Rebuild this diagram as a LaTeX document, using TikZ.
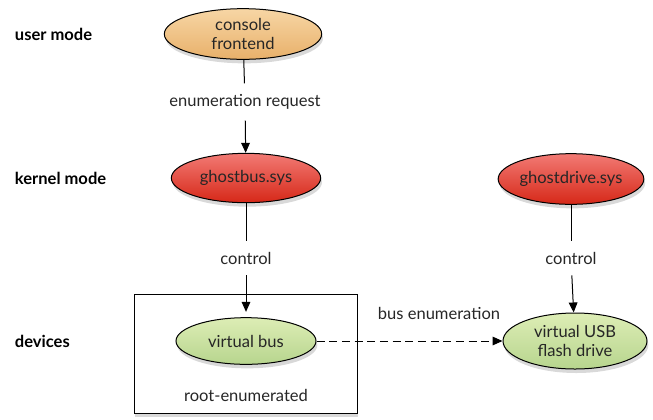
\documentclass[tikz,border=0pt]{standalone}
\usepackage{fontspec}
\setmainfont{Lato}
\usetikzlibrary{shapes.geometric, shadows, arrows.meta}
\definecolor{orTop}{HTML}{F7D6A5}
\definecolor{orBot}{HTML}{E8B06A}
\definecolor{rdTop}{HTML}{F27A74}
\definecolor{rdBot}{HTML}{D62818}
\definecolor{grTop}{HTML}{DDEDB5}
\definecolor{grBot}{HTML}{B7D58E}
\begin{document}
\begin{tikzpicture}[x=0.75pt, y=-0.75pt, line width=0.75pt, font=\fontsize{12.4}{14}\selectfont,
    main/.style = {draw, ellipse, inner sep=0pt, text=black!85,
        drop shadow={shadow xshift=1pt, shadow yshift=-3pt, opacity=0.3}},
    user/.style = {main, top color=orTop, bottom color=orBot},
    kern/.style = {main, top color=rdTop, bottom color=rdBot},
    dev/.style = {main, top color=grTop, bottom color=grBot},
    lbl/.style = {inner xsep=2pt, inner ysep=8pt, text=black!85},
    mode/.style = {anchor=west, font=\fontsize{12.4}{14}\selectfont\bfseries},
    tip/.style = {-{Triangle[length=7.5pt, width=6.5pt]}}]
    \useasboundingbox (0,0) rectangle (653,419);
    % Disegna i nodi
    \node[mode] (m1) at (10,34) {user mode};
    \node[mode] (m2) at (10,178) {kernel mode};
    \node[mode] (m3) at (10,341) {devices};

    \draw[drop shadow={shadow xshift=1pt, shadow yshift=-3pt, opacity=0.3}, fill=white] (134,294) rectangle (357,413);

    \node[user, minimum width=118pt, minimum height=38pt, align=center] (0) at (243,34) {console\\frontend};
    \node[kern, minimum width=112pt, minimum height=37pt] (1) at (246,178) {ghostbus.sys};
    \node[kern, minimum width=108pt, minimum height=38pt] (2) at (571,179) {ghostdrive.sys};
    \node[dev, minimum width=105pt, minimum height=35pt] (3) at (246,341) {virtual bus};
    \node[dev, minimum width=108pt, minimum height=42pt, align=center] (4) at (575,341) {virtual USB\\flash drive};

    \node[lbl] (r) at (245,102) {enumeration request};
    \node[lbl] (c1) at (246,258) {control};
    \node[lbl] (c2) at (571,258) {control};
    \node[lbl] (b) at (439,313) {bus enumeration};
    \node[lbl] (e) at (246,395) {root-enumerated};

    \draw (0) -- (r);
    \draw[tip] (r) -- (1);
    \draw (1) -- (c1);
    \draw[tip, shorten >=4pt] (c1) -- (3);
    \draw (2) -- (c2);
    \draw[tip] (c2) -- (4);
    \draw[tip, dash pattern=on 6pt off 3.5pt] (3) -- (4);

\end{tikzpicture}
\end{document}
